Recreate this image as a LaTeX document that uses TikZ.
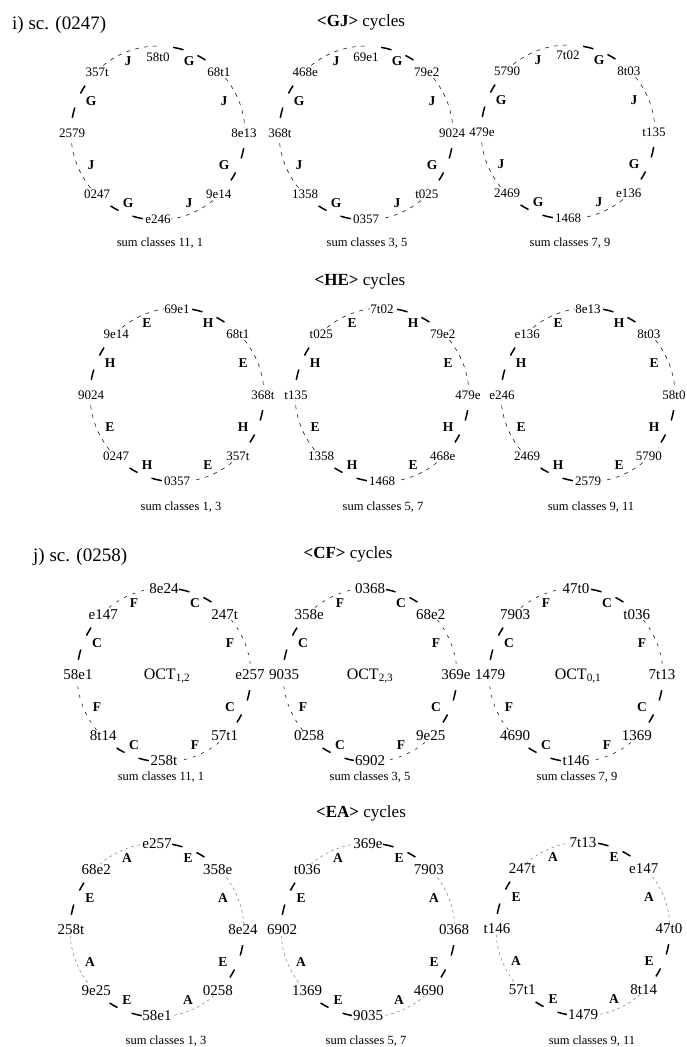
\documentclass[tikz,border=0pt]{standalone}
\usepackage{fontspec}
\setmainfont{Liberation Serif}
\tikzset{
  vlab/.style={fill=white, inner sep=0.6pt, font=\fontsize{13}{13}\selectfont},
  vlabbig/.style={fill=white, inner sep=0.6pt, font=\fontsize{15}{15}\selectfont},
  edgelet/.style={inner sep=0pt, font=\fontsize{13.5}{13.5}\selectfont\bfseries},
  thickarc/.style={line width=1.5pt},
  thinarc/.style={line width=0.5pt, dash pattern=on 4pt off 5pt},
  thinarccf/.style={line width=0.5pt, dash pattern=on 3pt off 6pt},
  thinarcea/.style={line width=0.5pt, gray, dash pattern=on 3pt off 3pt},
  sumlab/.style={font=\fontsize{12.5}{12.5}\selectfont, inner sep=0pt},
  titlelab/.style={font=\fontsize{17}{17}\selectfont, inner sep=0pt},
  headlab/.style={font=\fontsize{19}{19}\selectfont, inner sep=0pt, anchor=west},
  octlab/.style={font=\fontsize{16}{16}\selectfont, inner sep=0pt}
}
% #1 id, #2 cx, #3 cy, #4 labels, #5 thick letter, #6 thin letter, #7 label style, #8 thin arc style, #9 radius of top label
\newcommand{\mycyc}[9]{%
  \coordinate (#1c) at (#2,#3);
  \foreach \a in {45,-45,-135,135}{
    \draw[#8] ([shift={(\a:87pt)}]#1c) arc[start angle=\a, end angle={\a-45}, radius=87pt];
  }
  \foreach \a in {90,0,-90,180}{
    \draw[thickarc] ([shift={({\a-10}:87pt)}]#1c) arc[start angle={\a-10}, end angle={\a-17}, radius=87pt];
    \draw[thickarc] ([shift={({\a-27}:87pt)}]#1c) arc[start angle={\a-27}, end angle={\a-33}, radius=87pt];
  }
  \foreach \t [count=\k] in {#4}{
    \ifnum\k=1 \def\rr{#9}\else\def\rr{86}\fi
    \node[#7] (#1v\k) at ([shift={({135-45*\k}:\rr pt)}]#1c) {\t};
  }
  \node[edgelet] (#1e1) at ([shift={(31,72)}]#1c) {#5};
  \node[edgelet] (#1e2) at ([shift={(66,32)}]#1c) {#6};
  \node[edgelet] (#1e3) at ([shift={(66,-32)}]#1c) {#5};
  \node[edgelet] (#1e4) at ([shift={(31,-70)}]#1c) {#6};
  \node[edgelet] (#1e5) at ([shift={(-30,-70)}]#1c) {#5};
  \node[edgelet] (#1e6) at ([shift={(-67,-32)}]#1c) {#6};
  \node[edgelet] (#1e7) at ([shift={(-67,32)}]#1c) {#5};
  \node[edgelet] (#1e8) at ([shift={(-30,72)}]#1c) {#6};
}
\begin{document}
\begin{tikzpicture}[x=1pt,y=1pt]
\useasboundingbox (0,0) rectangle (686,-1047);
\fill[white] (0,0) rectangle (686,-1047);

% headings
\node[headlab] (hi) at (12,-25) {i) sc. (0247)};
\node[headlab] (hj) at (33,-557) {j) sc. (0258)};
\node[titlelab] (tgj) at (361,-22) {{\bfseries\textless GJ\textgreater} cycles};
\node[titlelab] (the) at (360,-281) {{\bfseries\textless HE\textgreater} cycles};
\node[titlelab] (tcf) at (348,-554) {{\bfseries\textless CF\textgreater} cycles};
\node[titlelab] (tea) at (361,-813) {{\bfseries\textless EA\textgreater} cycles};

% GJ row
\mycyc{ga}{158}{-133}{58t0,68t1,8e13,9e14,e246,0247,2579,357t}{G}{J}{vlab}{thinarc}{76}
\mycyc{gb}{366}{-133}{69e1,79e2,9024,t025,0357,1358,368t,468e}{G}{J}{vlab}{thinarc}{76}
\mycyc{gc}{568}{-132}{7t02,8t03,t135,e136,1468,2469,479e,5790}{G}{J}{vlab}{thinarc}{77}
\node[sumlab] (sga) at (160,-243) {sum classes 11, 1};
\node[sumlab] (sgb) at (367,-243) {sum classes 3, 5};
\node[sumlab] (sgc) at (570,-243) {sum classes 7, 9};

% HE row
\mycyc{ha}{177}{-395}{69e1,68t1,368t,357t,0357,0247,9024,9e14}{H}{E}{vlab}{thinarc}{86}
\mycyc{hb}{382}{-395}{7t02,79e2,479e,468e,1468,1358,t135,t025}{H}{E}{vlab}{thinarc}{86}
\mycyc{hc}{588}{-395}{8e13,8t03,58t0,5790,2579,2469,e246,e136}{H}{E}{vlab}{thinarc}{86}
\node[sumlab] (sha) at (181,-507) {sum classes 1, 3};
\node[sumlab] (shb) at (383,-507) {sum classes 5, 7};
\node[sumlab] (shc) at (591,-507) {sum classes 9, 11};

% CF row
\mycyc{ca}{164}{-675}{8e24,247t,e257,57t1,258t,8t14,58e1,e147}{C}{F}{vlabbig}{thinarccf}{86}
\mycyc{cb}{370}{-675}{0368,68e2,369e,9e25,6902,0258,9035,358e}{C}{F}{vlabbig}{thinarccf}{86}
\mycyc{cc}{576}{-675}{47t0,t036,7t13,1369,t146,4690,1479,7903}{C}{F}{vlabbig}{thinarccf}{86}
\node[octlab] (oca) at (167,-676) {OCT\textsubscript{1,2}};
\node[octlab] (ocb) at (370,-676) {OCT\textsubscript{2,3}};
\node[octlab] (occ) at (578,-676) {OCT\textsubscript{0,1}};
\node[sumlab] (sca) at (161,-777) {sum classes 11, 1};
\node[sumlab] (scb) at (370,-777) {sum classes 3, 5};
\node[sumlab] (scc) at (577,-777) {sum classes 7, 9};

% EA row
\mycyc{ea}{157}{-930}{e257,358e,8e24,0258,58e1,9e25,258t,68e2}{E}{A}{vlabbig}{thinarcea}{86}
\mycyc{eb}{368}{-930}{369e,7903,0368,4690,9035,1369,6902,t036}{E}{A}{vlabbig}{thinarcea}{86}
\mycyc{ec}{583}{-929}{7t13,e147,47t0,8t14,1479,57t1,t146,247t}{E}{A}{vlabbig}{thinarcea}{86}
\node[sumlab] (sea) at (166,-1041) {sum classes 1, 3};
\node[sumlab] (seb) at (366,-1041) {sum classes 5, 7};
\node[sumlab] (sec) at (592,-1041) {sum classes 9, 11};
\end{tikzpicture}
\end{document}
